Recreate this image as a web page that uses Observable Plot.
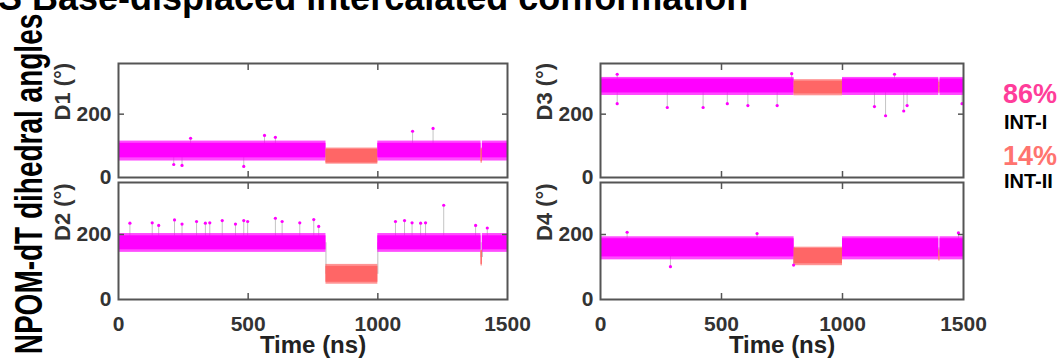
<!DOCTYPE html>
<html>
<head>
<meta charset="utf-8">
<script src="https://cdn.jsdelivr.net/npm/d3@7"></script>
<script src="https://cdn.jsdelivr.net/npm/@observablehq/plot@0.6"></script>
<style>
  html, body { margin: 0; padding: 0; background: #fff; overflow: hidden; }
  #wrap { position: relative; width: 1063px; height: 360px; overflow: hidden; font-family: "Liberation Sans", Arial, sans-serif; }
  #wrap > svg, #wrap > figure { position: absolute; margin: 0; }
</style>
</head>
<body>
<div id="wrap"></div>
<script>
// ---------- data ----------
const title = "S Base-displaced intercalated conformation";
const yTitle = "NPOM-dT dihedral angles";
const xTitle = "Time (ns)";
const xTicks = [0, 500, 1000, 1500];
const yTicks = [0, 200];
const states = ["INT-I", "INT-II"];
const stateShare = ["86%", "14%"];

// state segments along the trajectory (ns)
const segStart = [0, 800, 1000, 1398, 1403];
const segEnd   = [800, 1000, 1398, 1403, 1500];
const segState = ["INT-I", "INT-II", "INT-I", "INT-II", "INT-I"];

// dense core of each dihedral per segment [low, high] (degrees)
const d1Core = [[62, 108], [46, 89], [62, 108], [50, 90], [62, 108]];
const d2Core = [[153, 196], [53, 102], [153, 196], [108, 150], [153, 196]];
const d3Core = [[267, 311], [264, 304], [267, 311], [270, 300], [267, 311]];
const d4Core = [[131, 187], [110, 157], [131, 187], [122, 150], [131, 187]];

// sparse fringe of each dihedral per segment [low, high]
const d1Fringe = [[52, 115], [42, 93], [52, 115], [45, 93], [52, 115]];
const d2Fringe = [[145, 203], [47, 108], [145, 203], [103, 152], [145, 203]];
const d3Fringe = [[259, 316], [258, 309], [259, 316], [265, 305], [259, 316]];
const d4Fringe = [[122, 193], [104, 161], [122, 193], [118, 155], [122, 193]];

// isolated excursions [time, angle]
const d1Spikes = [[213, 41], [245, 38], [278, 124], [483, 35], [563, 133], [605, 127], [1134, 146], [1213, 155]];
const d2Spikes = [[44, 235], [130, 236], [155, 228], [216, 245], [245, 232], [301, 240], [335, 235], [352, 236],
                  [400, 243], [451, 232], [483, 243], [498, 240], [605, 250], [631, 240], [699, 236], [753, 246],
                  [772, 225], [1068, 240], [1103, 243], [1132, 236], [1165, 235], [1184, 236], [1254, 290],
                  [1377, 228], [1422, 220]];
const d3Spikes = [[69, 233], [276, 221], [424, 221], [524, 233], [609, 227], [730, 227], [1132, 224], [1178, 195],
                  [1253, 210], [1267, 227], [1494, 233], [69, 326], [790, 328], [1215, 326]];
const d4Spikes = [[110, 207], [289, 101], [647, 203], [798, 106], [1479, 205]];

const stateColors = ["#ff00ff", "#ff6666"];
const shareColors = ["#ff3d9a", "#ff746f"];

// ---------- drawing ----------
const wrap = document.getElementById("wrap");

function panel({name, core, fringe, spikes, left, top, mL, mT, mB, fw, fh, bottom}) {
  const segs = segStart.map((s, i) => ({
    x1: s, x2: segEnd[i], state: segState[i],
    lo: core[i][0], hi: core[i][1], flo: fringe[i][0], fhi: fringe[i][1],
    mid: (core[i][0] + core[i][1]) / 2
  }));
  const trans = segs.slice(1).map((s, i) => ({x: s.x1, y1: segs[i].mid, y2: s.mid}));
  const sp = spikes.map(([t, v]) => {
    const s = segs.find(g => t >= g.x1 && t < g.x2);
    return {t, v, mid: s.mid, state: s.state};
  });
  const axisStroke = "#555";
  const marks = [
    Plot.ruleX(trans, {x: "x", y1: "y1", y2: "y2", stroke: "#bdbdbd", strokeWidth: 1}),
    Plot.ruleX(sp, {x: "t", y1: "mid", y2: "v", stroke: "#c4c4c4", strokeWidth: 1}),
    Plot.rect(segs, {x1: "x1", x2: "x2", y1: "flo", y2: "fhi", fill: "state", fillOpacity: 0.7}),
    Plot.rect(segs, {x1: "x1", x2: "x2", y1: "lo", y2: "hi", fill: "state"}),
    Plot.dot(sp, {x: "t", y: "v", r: 1.6, fill: "state"}),
    Plot.axisY({ticks: yTicks, tickSize: 0, tickPadding: 7, label: null, fontWeight: "bold", fill: "#333"}),
    Plot.axisY({ticks: [200], tickSize: -6, fill: "none", stroke: axisStroke, strokeWidth: 1.5, label: null}),
    Plot.axisY({anchor: "right", ticks: [200], tickSize: -6, fill: "none", stroke: axisStroke, strokeWidth: 1.5, label: null}),
    Plot.axisX({anchor: "top", ticks: [500, 1000], tickSize: -6, fill: "none", stroke: axisStroke, strokeWidth: 1.5, label: null}),
    Plot.axisX({anchor: "bottom", ticks: [500, 1000], tickSize: -6, fill: "none", stroke: axisStroke, strokeWidth: 1.5, label: null}),
    Plot.frame({stroke: axisStroke, strokeWidth: 2}),
    Plot.text([name + " (°)"], {frameAnchor: "left", rotate: -90, dx: -56, fontSize: 22, fontWeight: "bold", fill: "#333", lineAnchor: "middle"})
  ];
  if (bottom) {
    marks.push(Plot.axisX({ticks: xTicks, tickSize: 0, tickPadding: 17, label: null, tickFormat: d => String(d), fontWeight: "bold", fill: "#333"}));
    marks.push(Plot.text([xTitle], {frameAnchor: "bottom", dy: 46, fontSize: 24, fontWeight: "bold", fill: "#222", lineAnchor: "middle"}));
  }
  const chart = Plot.plot({
    width: mL + fw + 6,
    height: mT + fh + mB,
    marginLeft: mL, marginRight: 6, marginTop: mT, marginBottom: mB,
    x: {domain: [0, 1500]},
    y: {domain: [0, 360]},
    color: {domain: states, range: stateColors},
    style: {background: "transparent", overflow: "visible", fontFamily: "Liberation Sans, Arial, sans-serif", fontSize: "21px", color: "#222"},
    marks
  });
  chart.style.left = left + "px";
  chart.style.top = top + "px";
  wrap.appendChild(chart);
}

// left column frames x 118..507, right column 600..963
panel({name: "D1", core: d1Core, fringe: d1Fringe, spikes: d1Spikes, left: 0,   top: 0,   mL: 118, mT: 63, mB: 5,  fw: 389, fh: 114, bottom: false});
panel({name: "D2", core: d2Core, fringe: d2Fringe, spikes: d2Spikes, left: 0,   top: 177, mL: 118, mT: 5,  mB: 61, fw: 389, fh: 117, bottom: true});
panel({name: "D3", core: d3Core, fringe: d3Fringe, spikes: d3Spikes, left: 540, top: 0,   mL: 60,  mT: 63, mB: 5,  fw: 363, fh: 114, bottom: false});
panel({name: "D4", core: d4Core, fringe: d4Fringe, spikes: d4Spikes, left: 540, top: 177, mL: 60,  mT: 5,  mB: 61, fw: 363, fh: 117, bottom: true});

// overlay texts: title, shared y title, state shares
const ov = d3.select(wrap).append("svg")
  .attr("width", 1063).attr("height", 360)
  .style("left", "0px").style("top", "0px").style("pointer-events", "none")
  .style("font-family", "Liberation Sans, Arial, sans-serif");

ov.append("text").attr("x", -2).attr("y", 10)
  .attr("font-size", 36).attr("font-weight", "bold").attr("fill", "#000")
  .text(title);

ov.append("text")
  .attr("transform", "translate(42,184) rotate(-90) scale(1,1.4)")
  .attr("text-anchor", "middle")
  .attr("font-size", 28).attr("font-weight", "bold").attr("fill", "#000")
  .text(yTitle);

const shareY = [103, 165];
const nameY = [129, 188];
states.forEach((s, i) => {
  ov.append("text").attr("x", 1003).attr("y", shareY[i])
    .attr("font-size", 27).attr("font-weight", "bold").attr("fill", shareColors[i])
    .text(stateShare[i]);
  ov.append("text").attr("x", 1004).attr("y", nameY[i])
    .attr("font-size", 20).attr("font-weight", "bold").attr("fill", "#000")
    .text(s);
});
</script>
</body>
</html>
